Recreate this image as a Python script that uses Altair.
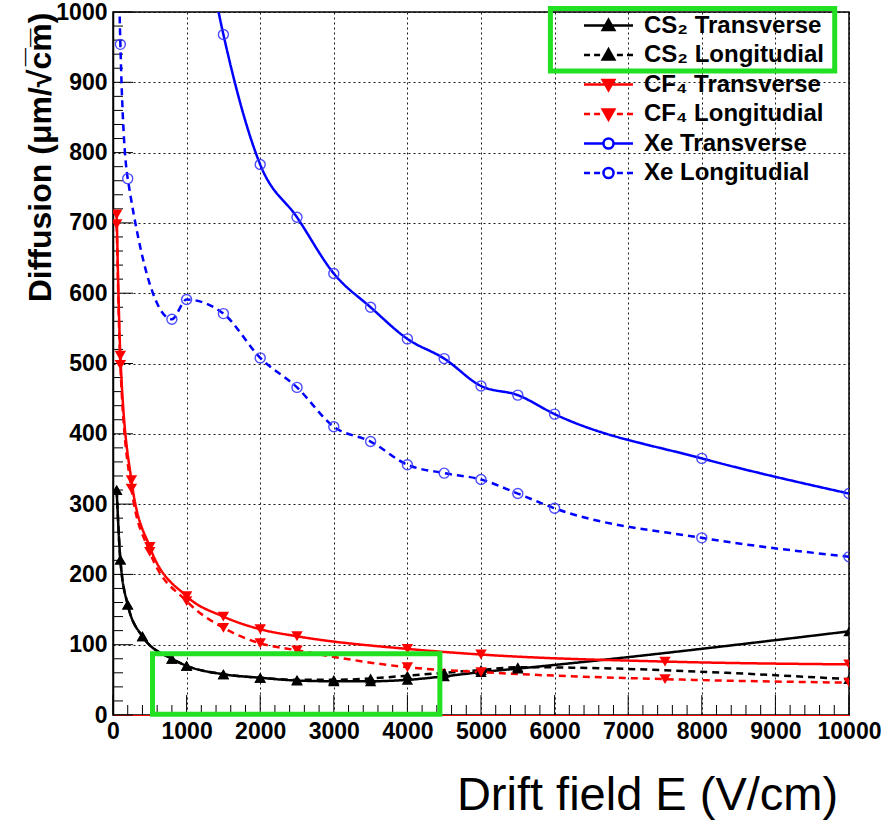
import altair as alt
import pandas as pd

# ---------------- data ----------------
series_names = ["CS₂ Transverse", "CS₂ Longitudial", "CF₄ Transverse",
                "CF₄ Longitudial", "Xe Transverse", "Xe Longitudial"]
series_colors = ["#000000", "#000000", "#ff0000", "#ff0000", "#0000ff", "#0000ff"]
series_fill = ["#000000", "#000000", "#ff0000", "#ff0000", "transparent", "transparent"]
series_dash = [[1, 0], [7, 5], [1, 0], [7, 5], [1, 0], [7, 5]]
series_marker = ["triangle-up", "triangle-up", "triangle-down", "triangle-down", "circle", "circle"]

cs2_field = [50, 100, 200, 400, 800, 1000, 1500, 2000, 2500, 3000, 3500, 4000, 4500, 5000, 5500, 10000]
cs2_trans = [320, 221, 157, 112, 80, 70, 58, 53, 49, 48, 48, 50, 55, 61, 66, 119]
cs2_long = [320, 221, 157, 112, 80, 70, 58, 53, 50, 50, 52, 56, 60, 64, 68, 51]

cf4_field = [50, 100, 250, 500, 1000, 1500, 2000, 2500, 4000, 5000, 7500, 10000]
cf4_trans = [712, 511, 334, 239, 169, 140, 122, 112, 94, 86, 76, 72]
cf4_long = [698, 498, 322, 232, 162, 124, 102, 92, 68, 61, 51, 46]

xe_t_field = [1000, 1500, 2000, 2500, 3000, 3500, 4000, 4500, 5000, 5500, 6000, 8000, 10000]
xe_trans = [1250, 968, 783, 708, 628, 580, 535, 507, 468, 455, 428, 365, 315]
xe_l_field = [50, 100, 200, 800, 1000, 1500, 2000, 2500, 3000, 3500, 4000, 4500, 5000, 5500, 6000, 8000, 10000]
xe_long = [1250, 954, 763, 563, 591, 571, 508, 466, 410, 389, 356, 344, 335, 315, 294, 252, 225]

x_major_ticks = [0, 1000, 2000, 3000, 4000, 5000, 6000, 7000, 8000, 9000, 10000]
x_minor_ticks = [v for v in range(0, 10001, 200) if v % 1000 != 0]
y_major_ticks = [0, 100, 200, 300, 400, 500, 600, 700, 800, 900, 1000]
y_minor_ticks = [v for v in range(0, 1001, 20) if v % 100 != 0]

# highlight boxes (data coordinates)
box_x1 = [5943, 537]
box_x2 = [9806, 4441]
box_y1 = [1005, 1]
box_y2 = [916, 87]

# legend symbols: line + marker drawn as custom symbol paths
DASHES = "M-2.04,0H-1.54M-1.2,0H-0.7M0.7,0H1.2M1.54,0H2.04"
TRI_UP = "M0,-0.47L0.48,0.38L-0.48,0.38Z"
TRI_DN = "M0,0.47L0.48,-0.38L-0.48,-0.38Z"
CIRC = "M0.42,0A0.42,0.42,0,1,1,-0.42,0A0.42,0.42,0,1,1,0.42,0"
legend_paths = [
    "M-2.04,0H2.04" + TRI_UP,
    DASHES + TRI_UP,
    "M-2.04,0H2.04" + TRI_DN,
    DASHES + TRI_DN,
    "M-2.04,0H-0.42M0.42,0H2.04" + CIRC,
    DASHES + CIRC,
]

# ---------------- tables ----------------
rows = []
for f, v in zip(cs2_field, cs2_trans):
    rows.append({"series": series_names[0], "E": f, "D": v})
for f, v in zip(cs2_field, cs2_long):
    rows.append({"series": series_names[1], "E": f, "D": v})
for f, v in zip(cf4_field, cf4_trans):
    rows.append({"series": series_names[2], "E": f, "D": v})
for f, v in zip(cf4_field, cf4_long):
    rows.append({"series": series_names[3], "E": f, "D": v})
for f, v in zip(xe_t_field, xe_trans):
    rows.append({"series": series_names[4], "E": f, "D": v})
for f, v in zip(xe_l_field, xe_long):
    rows.append({"series": series_names[5], "E": f, "D": v})
df = pd.DataFrame(rows)

xticks_major = pd.DataFrame({"E": x_major_ticks})
xticks_minor = pd.DataFrame({"E": x_minor_ticks})
yticks_major = pd.DataFrame({"D": y_major_ticks})
yticks_minor = pd.DataFrame({"D": y_minor_ticks})
boxes = pd.DataFrame({"E": box_x1, "E2": box_x2, "D": box_y1, "D2": box_y2})
legend_df = pd.DataFrame({"series": series_names})

W, H = 736, 703
FONT = "Liberation Sans"

xscale = alt.Scale(domain=[0, 10000], nice=False, zero=False)
yscale = alt.Scale(domain=[0, 1000], nice=False, zero=False)

xaxis = alt.Axis(values=x_major_ticks, format="d", grid=True, gridDash=[2, 3],
                 gridColor="#000000", gridWidth=1, gridOpacity=0.9,
                 ticks=False, tickSize=0, domainColor="#ff0000", domainWidth=1,
                 labelFont=FONT, labelFontSize=23, labelFontWeight="bold",
                 labelColor="#000000", labelPadding=5, labelFlush=False,
                 labelOverlap=False, title="Drift field E (V/cm)", titleFont=FONT,
                 titleFontSize=47, titleFontWeight="normal", titleColor="#000000",
                 titleX=534, titleY=94, titleAlign="center", titleBaseline="alphabetic")
yaxis = alt.Axis(values=y_major_ticks, format="d", grid=True, gridDash=[2, 3],
                 gridColor="#000000", gridWidth=1, gridOpacity=0.9,
                 ticks=False, tickSize=0, domainColor="#000000", domainWidth=1.5,
                 labelFont=FONT, labelFontSize=23, labelFontWeight="bold",
                 labelColor="#000000", labelPadding=6, labelFlush=False,
                 labelOverlap=False, title="Diffusion (μm/√c̅m̅)", titleFont=FONT,
                 titleFontSize=32, titleFontWeight="bold", titleColor="#000000",
                 titleX=-63, titleY=145, titleAlign="center", titleBaseline="alphabetic")

X = alt.X("E:Q", scale=xscale, axis=xaxis)
Y = alt.Y("D:Q", scale=yscale, axis=yaxis)

# legend (only this layer carries scaled non-position channels)
leg = dict(title=None, orient="none", legendX=482, legendY=0, padding=0,
           labelFont=FONT, labelFontSize=24, labelFontWeight="bold", labelColor="#000000",
           labelOffset=22, labelLimit=400, symbolSize=576, symbolStrokeWidth=2.5,
           rowPadding=3.5, symbolOpacity=1)

legend_layer = alt.Chart(legend_df).transform_filter("false").mark_point(
    filled=False, size=576, strokeWidth=2.5, opacity=1).encode(
    x=X, y=Y,
    fill=alt.Fill("series:N", scale=alt.Scale(domain=series_names, range=series_fill), legend=alt.Legend(**leg)),
    stroke=alt.Stroke("series:N", scale=alt.Scale(domain=series_names, range=series_colors), legend=alt.Legend(**leg)),
    shape=alt.Shape("series:N", scale=alt.Scale(domain=series_names, range=legend_paths), legend=alt.Legend(**leg)),
)

# inward ticks
xt_major = alt.Chart(xticks_major).mark_rule(color="#000000", strokeWidth=1).encode(
    x=X, y=alt.value(H), y2=alt.value(H - 20))
xt_minor = alt.Chart(xticks_minor).mark_rule(color="#000000", strokeWidth=1).encode(
    x=X, y=alt.value(H), y2=alt.value(H - 10))
yt_major = alt.Chart(yticks_major).mark_rule(color="#000000", strokeWidth=1).encode(
    y=Y, x=alt.value(0), x2=alt.value(20))
yt_minor = alt.Chart(yticks_minor).mark_rule(color="#000000", strokeWidth=1).encode(
    y=Y, x=alt.value(0), x2=alt.value(10))

line_layers = []
point_layers = []
for name, col, fillc, dash, marker in zip(series_names, series_colors, series_fill, series_dash, series_marker):
    base = alt.Chart(df).transform_filter(alt.datum.series == name)
    line_layers.append(base.mark_line(interpolate="monotone", strokeWidth=2.5, color=col,
                                      strokeDash=dash, clip=True).encode(x=X, y=Y, order="E:Q"))
    if marker == "circle":
        point_layers.append(base.mark_point(shape="circle", filled=False, size=100, strokeWidth=1.4,
                                            color="#3b3bff", opacity=0.9, clip=True).encode(x=X, y=Y))
    else:
        point_layers.append(base.mark_point(shape=marker, filled=True, size=130, color=col,
                                            opacity=1, clip=True).encode(x=X, y=Y))

box_layer = alt.Chart(boxes).mark_rect(fill="transparent", stroke="#22e022", strokeWidth=5, clip=False).encode(
    x=X, x2="E2:Q", y=Y, y2="D2:Q")

chart = alt.layer(
    legend_layer, xt_minor, xt_major, yt_minor, yt_major, *line_layers, *point_layers, box_layer
).properties(
    width=W, height=H,
    autosize=alt.AutoSizeParams(type="none"),
    padding={"left": 113, "top": 12, "right": 40, "bottom": 105},
    background="#ffffff",
).configure_view(stroke="#000000", strokeWidth=1.5)

chart.save("out.html", embed_options={"renderer": "svg", "actions": False})
